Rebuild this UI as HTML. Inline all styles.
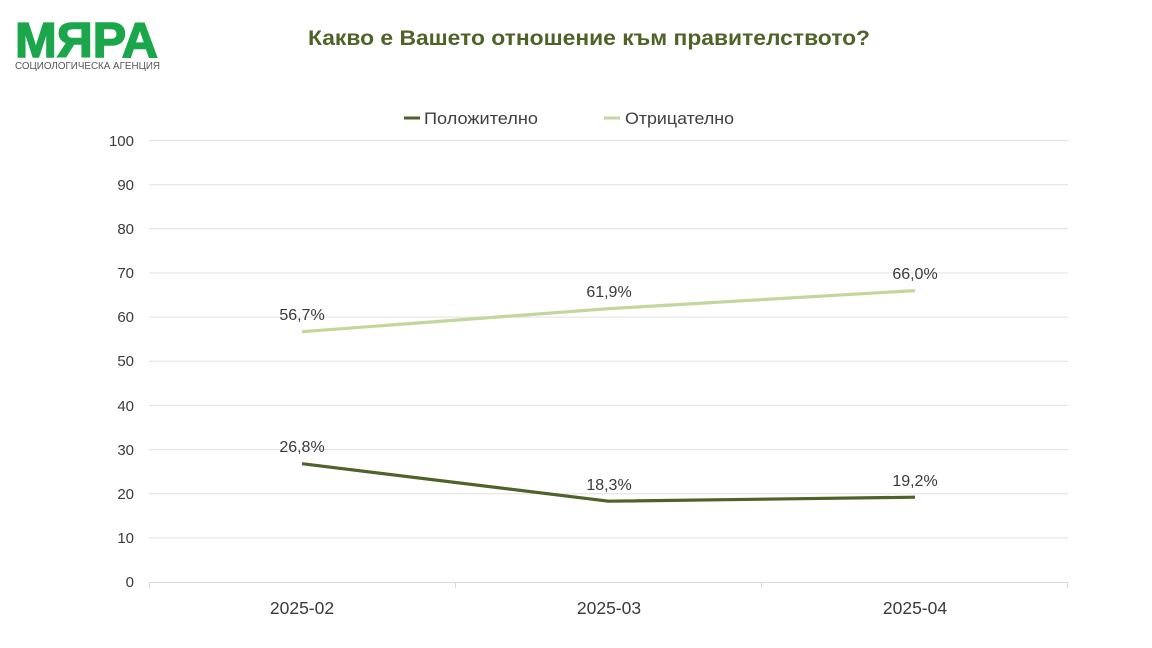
<!DOCTYPE html>
<html>
<head>
<meta charset="utf-8">
<style>
html,body{margin:0;padding:0;background:#fff;}
svg{display:block;}
text{font-family:"Liberation Sans","Noto Sans CJK SC",sans-serif;}
</style>
</head>
<body>
<svg width="1152" height="648" viewBox="0 0 1152 648" xmlns="http://www.w3.org/2000/svg">
  <rect width="1152" height="648" fill="#ffffff"/>
  <!-- Logo -->
  <text x="15" y="57" font-size="49" font-weight="bold" fill="#1ba64b" stroke="#1ba64b" stroke-width="1.5" textLength="143" lengthAdjust="spacingAndGlyphs">МЯРА</text>
  <text x="15" y="69" font-size="10" fill="#555555" textLength="145" lengthAdjust="spacingAndGlyphs">СОЦИОЛОГИЧЕСКА АГЕНЦИЯ</text>
  <!-- Title -->
  <text x="308" y="45" font-size="21" font-weight="bold" fill="#4f6228" textLength="562" lengthAdjust="spacingAndGlyphs">Какво е Вашето отношение към правителството?</text>
  <!-- Legend -->
  <line x1="404" y1="118" x2="420" y2="118" stroke="#4f6228" stroke-width="3"/>
  <text x="424" y="124" font-size="16.5" fill="#404040" textLength="114" lengthAdjust="spacingAndGlyphs">Положително</text>
  <line x1="604" y1="118" x2="620" y2="118" stroke="#c3d69b" stroke-width="3"/>
  <text x="625" y="124" font-size="16.5" fill="#404040" textLength="109" lengthAdjust="spacingAndGlyphs">Отрицателно</text>
  <!-- Gridlines -->
  <g stroke="#e0e0e0" stroke-width="1">
    <line x1="149" y1="140.5" x2="1068" y2="140.5"/>
    <line x1="149" y1="184.7" x2="1068" y2="184.7"/>
    <line x1="149" y1="228.8" x2="1068" y2="228.8"/>
    <line x1="149" y1="273" x2="1068" y2="273"/>
    <line x1="149" y1="317.1" x2="1068" y2="317.1"/>
    <line x1="149" y1="361.3" x2="1068" y2="361.3"/>
    <line x1="149" y1="405.4" x2="1068" y2="405.4"/>
    <line x1="149" y1="449.6" x2="1068" y2="449.6"/>
    <line x1="149" y1="493.7" x2="1068" y2="493.7"/>
    <line x1="149" y1="537.9" x2="1068" y2="537.9"/>
  </g>
  <g stroke="#d9d9d9" stroke-width="1">
    <line x1="149" y1="582.5" x2="1068" y2="582.5"/>
    <line x1="149.5" y1="582" x2="149.5" y2="588"/>
    <line x1="455.5" y1="582" x2="455.5" y2="588"/>
    <line x1="761.5" y1="582" x2="761.5" y2="588"/>
    <line x1="1067.5" y1="582" x2="1067.5" y2="588"/>
  </g>
  <!-- Y labels -->
  <g font-size="15" fill="#3a3a3a" text-anchor="end">
    <text x="134" y="146">100</text>
    <text x="134" y="190">90</text>
    <text x="134" y="234">80</text>
    <text x="134" y="278">70</text>
    <text x="134" y="322">60</text>
    <text x="134" y="366">50</text>
    <text x="134" y="411">40</text>
    <text x="134" y="455">30</text>
    <text x="134" y="499">20</text>
    <text x="134" y="543">10</text>
    <text x="134" y="587">0</text>
  </g>
  <!-- X labels -->
  <g font-size="17.5" fill="#3a3a3a" text-anchor="middle">
    <text x="302" y="614">2025-02</text>
    <text x="609" y="614">2025-03</text>
    <text x="915" y="614">2025-04</text>
  </g>
  <!-- Series -->
  <polyline points="302,331.7 608.5,308.7 915,290.6" fill="none" stroke="#c3d69b" stroke-width="3.2" stroke-linejoin="round"/>
  <polyline points="302,463.7 608.5,501.2 915,497.2" fill="none" stroke="#4f6228" stroke-width="3.2" stroke-linejoin="round"/>
  <!-- Data labels -->
  <g font-size="16" fill="#3a3a3a" text-anchor="middle">
    <text x="302" y="320">56,7%</text>
    <text x="609" y="297">61,9%</text>
    <text x="915" y="279">66,0%</text>
    <text x="302" y="452">26,8%</text>
    <text x="609" y="490">18,3%</text>
    <text x="915" y="486">19,2%</text>
  </g>
</svg>
</body>
</html>
